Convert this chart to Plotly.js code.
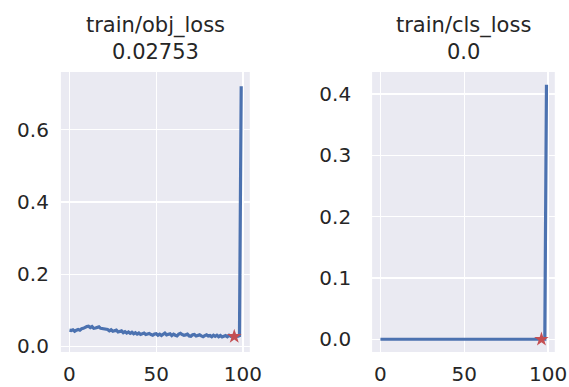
<!DOCTYPE html>
<html>
<head>
<meta charset="utf-8">
<script src="https://cdn.plot.ly/plotly-3.0.1.min.js"></script>
<style>html,body{margin:0;padding:0;background:#fff;}#chart{width:569px;height:387px;}</style>
</head>
<body>
<div id="chart"></div>
<script>
var epochs = [];
for (var i = 0; i < 100; i++) epochs.push(i);

var objLoss = [
  0.045, 0.044, 0.046, 0.042, 0.045, 0.047, 0.045, 0.049, 0.050, 0.053,
  0.055, 0.056, 0.052, 0.055, 0.050, 0.051, 0.053, 0.054, 0.050, 0.049,
  0.048, 0.046, 0.047, 0.043, 0.046, 0.042, 0.043, 0.045, 0.040, 0.041,
  0.043, 0.038, 0.041, 0.037, 0.040, 0.036, 0.039, 0.035, 0.038, 0.034,
  0.037, 0.033, 0.036, 0.037, 0.033, 0.034, 0.036, 0.033, 0.031, 0.034,
  0.035, 0.031, 0.034, 0.030, 0.035, 0.037, 0.032, 0.033, 0.035, 0.030,
  0.034, 0.031, 0.029, 0.034, 0.036, 0.033, 0.031, 0.032, 0.034, 0.029,
  0.028, 0.032, 0.033, 0.029, 0.030, 0.032, 0.029, 0.027, 0.030, 0.032,
  0.029, 0.030, 0.027, 0.031, 0.028, 0.031, 0.027, 0.030, 0.026, 0.029,
  0.030, 0.027, 0.031, 0.028, 0.029, 0.0275, 0.030, 0.028, 0.030, 0.720
];

var clsLoss = [
  0, 0, 0, 0, 0, 0, 0, 0, 0, 0,
  0, 0, 0, 0, 0, 0, 0, 0, 0, 0,
  0, 0, 0, 0, 0, 0, 0, 0, 0, 0,
  0, 0, 0, 0, 0, 0, 0, 0, 0, 0,
  0, 0, 0, 0, 0, 0, 0, 0, 0, 0,
  0, 0, 0, 0, 0, 0, 0, 0, 0, 0,
  0, 0, 0, 0, 0, 0, 0, 0, 0, 0,
  0, 0, 0, 0, 0, 0, 0, 0, 0, 0,
  0, 0, 0, 0, 0, 0, 0, 0, 0, 0,
  0, 0, 0, 0, 0, 0, 0, 0, 0, 0.415
];

var titles = ["train/obj_loss<br>0.02753", "train/cls_loss<br>0.0"];
var bestX = [95, 96];
var bestY = [0.0275, 0.0];

var blue = "#4c72b0", red = "#c44e52", txt = "#262626";
var font = {family: "DejaVu Sans", size: 20, color: txt};

var traces = [
  {x: epochs, y: objLoss, type: "scatter", mode: "lines", line: {color: blue, width: 3.2}, xaxis: "x", yaxis: "y"},
  {x: [bestX[0]], y: [bestY[0]], type: "scatter", mode: "markers", marker: {symbol: "star", size: 11, color: red}, xaxis: "x", yaxis: "y"},
  {x: epochs, y: clsLoss, type: "scatter", mode: "lines", line: {color: blue, width: 3.2}, xaxis: "x2", yaxis: "y2"},
  {x: [bestX[1]], y: [bestY[1]], type: "scatter", mode: "markers", marker: {symbol: "star", size: 11, color: red}, xaxis: "x2", yaxis: "y2"}
];

function ax(extra) {
  var a = {
    showgrid: true, gridcolor: "#ffffff", gridwidth: 1.3,
    zeroline: false, showline: false, ticks: "",
    tickfont: font, fixedrange: true
  };
  for (var k in extra) a[k] = extra[k];
  return a;
}

var layout = {
  width: 569, height: 387,
  margin: {l: 0, r: 0, t: 0, b: 0},
  paper_bgcolor: "#ffffff",
  plot_bgcolor: "#eaeaf2",
  showlegend: false,
  font: font,
  xaxis: ax({domain: [0.107, 0.439], range: [-4.95, 103.95], tickvals: [0, 50, 100], anchor: "y", ticklabelstandoff: 8}),
  yaxis: ax({domain: [0.0904, 0.814], range: [-0.0155, 0.7595], tickvals: [0, 0.2, 0.4, 0.6], ticktext: ["0.0", "0.2", "0.4", "0.6"], anchor: "x", ticklabelstandoff: 11}),
  xaxis2: ax({domain: [0.654, 0.975], range: [-4.95, 103.95], tickvals: [0, 50, 100], anchor: "y2", ticklabelstandoff: 8}),
  yaxis2: ax({domain: [0.0904, 0.814], range: [-0.0208, 0.4358], tickvals: [0, 0.1, 0.2, 0.3, 0.4], ticktext: ["0.0", "0.1", "0.2", "0.3", "0.4"], anchor: "x2", ticklabelstandoff: 20}),
  annotations: [
    {text: titles[0], xref: "paper", yref: "paper", x: 0.273, y: 0.972, xanchor: "center", yanchor: "top", showarrow: false, font: {family: "DejaVu Sans", size: 21, color: txt}},
    {text: titles[1], xref: "paper", yref: "paper", x: 0.8145, y: 0.972, xanchor: "center", yanchor: "top", showarrow: false, font: {family: "DejaVu Sans", size: 21, color: txt}}
  ]
};

Plotly.newPlot("chart", traces, layout, {staticPlot: true, displayModeBar: false});
</script>
</body>
</html>
